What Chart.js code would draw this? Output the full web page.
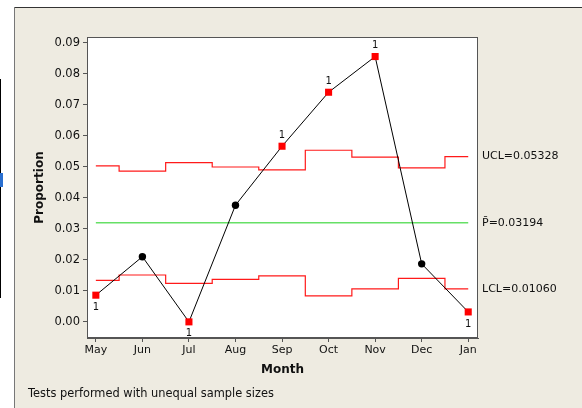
<!DOCTYPE html>
<html><head><meta charset="utf-8">
<script src="https://cdn.jsdelivr.net/npm/chart.js@4/dist/chart.umd.min.js"></script>
<style>html,body{margin:0;padding:0;background:#fff}canvas{display:block}</style>
</head><body>
<canvas id="c" width="582" height="408"></canvas>
<script>
const months = ['May','Jun','Jul','Aug','Sep','Oct','Nov','Dec','Jan'];
const proportion = [0.0086, 0.0210, 0.0000, 0.0376, 0.0566, 0.0740, 0.0855, 0.0187, 0.0032];
const ucl = [0.0503, 0.0486, 0.0513, 0.0499, 0.0490, 0.0553, 0.0531, 0.0496, 0.05328];
const lcl = [0.0134, 0.0151, 0.0124, 0.0137, 0.0148, 0.0084, 0.0106, 0.0140, 0.01060];
const center = 0.03194;
const yTicks = [0.00, 0.01, 0.02, 0.03, 0.04, 0.05, 0.06, 0.07, 0.08, 0.09];
const limitLabels = ['UCL=0.05328', 'P\u0304=0.03194', 'LCL=0.01060'];
const footnote = 'Tests performed with unequal sample sizes';

const FONT = 'DejaVu Sans';
const TXT = '#111';
const ooc = proportion.map((v,i) => v > ucl[i] || v < lcl[i]);
const pts = arr => arr.map((v,i) => ({x:i, y:v}));

const framePlugin = {
  id: 'frame',
  beforeDraw(chart) {
    const ctx = chart.ctx, a = chart.chartArea;
    ctx.save();
    ctx.fillStyle = '#fff'; ctx.fillRect(0,0,582,408);
    ctx.fillStyle = '#eeebe1'; ctx.fillRect(14,7,568,401);
    ctx.fillStyle = '#333'; ctx.fillRect(14,7,568,1);
    ctx.fillStyle = '#777'; ctx.fillRect(14,7,1,401);
    ctx.fillStyle = '#000'; ctx.fillRect(0,79,1,219);
    ctx.fillStyle = '#2a6fd0'; ctx.fillRect(0,173,3,14);
    ctx.fillStyle = '#fff'; ctx.fillRect(a.left,a.top,a.right-a.left,a.bottom-a.top);
    ctx.restore();
  },
  afterDatasetsDraw(chart) {
    const ctx = chart.ctx, xs = chart.scales.x, ys = chart.scales.y, a = chart.chartArea;
    ctx.save();
    ctx.strokeStyle = '#555'; ctx.lineWidth = 1;
    ctx.strokeRect(a.left+0.5, a.top+0.5, a.right-a.left-1, a.bottom-a.top-1);
    ctx.fillStyle = TXT;
    ctx.font = '10px ' + FONT;
    ctx.textAlign = 'center'; ctx.textBaseline = 'middle';
    proportion.forEach((v,i) => {
      if (!ooc[i]) return;
      const x = xs.getPixelForValue(i), y = ys.getPixelForValue(v);
      ctx.fillText('1', x, v > ucl[i] ? y - 11 : y + 12);
    });
    ctx.font = '11px ' + FONT;
    ctx.textAlign = 'left';
    const last = months.length - 1;
    const vals = [ucl[last], center, lcl[last]];
    limitLabels.forEach((t,k) => ctx.fillText(t, a.right + 4, ys.getPixelForValue(vals[k])));
    ctx.font = '11.4px ' + FONT;
    ctx.fillText(footnote, 28, 394);
    ctx.restore();
  }
};

new Chart(document.getElementById('c'), {
  type: 'line',
  data: {
    datasets: [
      {
        data: pts(proportion),
        borderColor: '#000', borderWidth: 1,
        pointStyle: c => ooc[c.dataIndex] ? 'rect' : 'circle',
        pointRadius: c => ooc[c.dataIndex] ? 5 : 3.7,
        pointBackgroundColor: c => ooc[c.dataIndex] ? '#ff0000' : '#000',
        pointBorderWidth: 0
      },
      { data: pts(ucl), borderColor: '#ff1a1a', borderWidth: 1.2, stepped: 'middle', pointRadius: 0 },
      { data: pts(lcl), borderColor: '#ff1a1a', borderWidth: 1.2, stepped: 'middle', pointRadius: 0 },
      { data: pts(months.map(() => center)), borderColor: '#66e066', borderWidth: 1.6, pointRadius: 0 }
    ]
  },
  options: {
    responsive: false, animation: false, events: [],
    layout: { padding: { left: 0, top: 37, right: 104, bottom: 0 } },
    plugins: { legend: { display: false }, tooltip: { enabled: false } },
    scales: {
      x: {
        type: 'linear', min: -0.19, max: 8.21,
        afterBuildTicks: s => { s.ticks = months.map((m,i) => ({value: i})); },
        afterFit: s => { s.height = 70; },
        ticks: { callback: v => months[v], font: { family: FONT, size: 11 }, color: TXT, padding: 2, maxRotation: 0, autoSkip: false },
        grid: { drawOnChartArea: false, drawTicks: true, tickLength: 4, color: '#555' },
        border: { color: '#555' },
        title: { display: true, text: 'Month', font: { family: FONT, size: 12, weight: 'bold' }, color: TXT, padding: { top: 0, bottom: 31 } }
      },
      y: {
        min: -0.0052, max: 0.0918,
        afterBuildTicks: s => { s.ticks = yTicks.map(v => ({value: v})); },
        afterFit: s => { s.width = 87; },
        ticks: { callback: v => v.toFixed(2), font: { family: FONT, size: 11.5 }, color: TXT, padding: 3 },
        grid: { drawOnChartArea: false, drawTicks: true, tickLength: 4, color: '#555' },
        border: { color: '#555' },
        title: { display: true, text: 'Proportion', font: { family: FONT, size: 12, weight: 'bold' }, color: TXT, padding: { top: 33, bottom: 0 } }
      }
    }
  },
  plugins: [framePlugin]
});
</script>
</body></html>
